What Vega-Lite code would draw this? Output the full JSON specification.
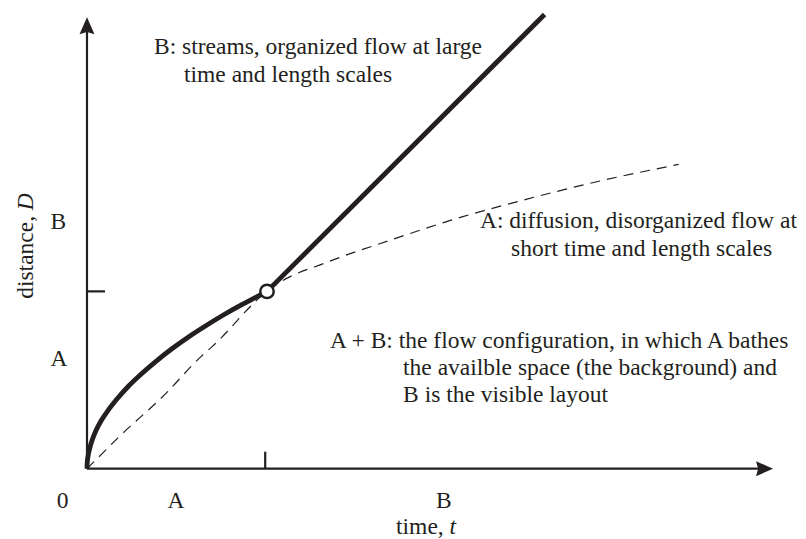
{
  "$schema": "https://vega.github.io/schema/vega-lite/v6.json",
  "width": 806,
  "height": 539,
  "padding": 0,
  "autosize": {"type": "fit", "contains": "padding"},
  "background": "white",
  "config": {
    "view": {"stroke": null},
    "text": {"font": "Liberation Serif", "fontSize": 23.5, "color": "#231f20"}
  },
  "datasets": {
    "curves": [
      {"series": "boldcurve", "t": 0, "D": 0},
      {"series": "boldcurve", "t": 0.001, "D": 0.03},
      {"series": "boldcurve", "t": 0.005, "D": 0.065},
      {"series": "boldcurve", "t": 0.015, "D": 0.115},
      {"series": "boldcurve", "t": 0.03, "D": 0.165},
      {"series": "boldcurve", "t": 0.05, "D": 0.215},
      {"series": "boldcurve", "t": 0.08, "D": 0.273},
      {"series": "boldcurve", "t": 0.12, "D": 0.333},
      {"series": "boldcurve", "t": 0.17, "D": 0.397},
      {"series": "boldcurve", "t": 0.23, "D": 0.465},
      {"series": "boldcurve", "t": 0.3, "D": 0.533},
      {"series": "boldcurve", "t": 0.38, "D": 0.603},
      {"series": "boldcurve", "t": 0.47, "D": 0.675},
      {"series": "boldcurve", "t": 0.56, "D": 0.74},
      {"series": "boldcurve", "t": 0.66, "D": 0.806},
      {"series": "boldcurve", "t": 0.76, "D": 0.868},
      {"series": "boldcurve", "t": 0.86, "D": 0.925},
      {"series": "boldcurve", "t": 0.94, "D": 0.968},
      {"series": "boldcurve", "t": 1, "D": 1},
      {"series": "boldline", "t": 1, "D": 1},
      {"series": "boldline", "t": 2.542, "D": 2.561},
      {"series": "dashed", "t": 0, "D": 0},
      {"series": "dashed", "t": 0.083, "D": 0.084},
      {"series": "dashed", "t": 0.172, "D": 0.174},
      {"series": "dashed", "t": 0.433, "D": 0.419},
      {"series": "dashed", "t": 0.639, "D": 0.638},
      {"series": "dashed", "t": 0.7, "D": 0.693},
      {"series": "dashed", "t": 1, "D": 1},
      {"series": "dashed", "t": 1.074, "D": 1.052},
      {"series": "dashed", "t": 1.333, "D": 1.164},
      {"series": "dashed", "t": 1.703, "D": 1.295},
      {"series": "dashed", "t": 2.074, "D": 1.417},
      {"series": "dashed", "t": 2.444, "D": 1.52},
      {"series": "dashed", "t": 2.814, "D": 1.614},
      {"series": "dashed", "t": 3.287, "D": 1.716}
    ],
    "rules": [
      {"t": 0, "D": 0, "t2": 3.739, "D2": 0},
      {"t": 0, "D": 0, "t2": 0, "D2": 2.475},
      {"t": 0.99, "D": 0, "t2": 0.99, "D2": 0.096},
      {"t": 0, "D": 1, "t2": 0.1, "D2": 1}
    ],
    "arrows": [
      {"dir": "x", "t": 3.764, "D": 0},
      {"dir": "y", "t": 0, "D": 2.498}
    ],
    "marker": [{"t": 1, "D": 1}],
    "texts": [
      {"role": "note", "text": "B: streams, organized flow at large", "t": 0.372, "D": 2.34},
      {"role": "note", "text": "time and length scales", "t": 0.539, "D": 2.183},
      {"role": "note", "text": "A: diffusion, disorganized flow at", "t": 2.183, "D": 1.357},
      {"role": "note", "text": "short time and length scales", "t": 2.356, "D": 1.198},
      {"role": "note", "text": "A + B: the flow configuration, in which A bathes", "t": 1.35, "D": 0.683},
      {"role": "note", "text": "the availble space (the background) and", "t": 1.756, "D": 0.531},
      {"role": "note", "text": "B is the visible layout", "t": 1.756, "D": 0.374},
      {"role": "tick", "text": "0", "t": -0.136, "D": -0.219},
      {"role": "tick", "text": "A", "t": 0.494, "D": -0.219},
      {"role": "tick", "text": "B", "t": 1.982, "D": -0.219},
      {"role": "tick", "text": "B", "t": -0.159, "D": 1.351},
      {"role": "tick", "text": "A", "t": -0.156, "D": 0.579},
      {"role": "xtitle", "text": "time, ", "t": 1.717, "D": -0.368},
      {"role": "xvar", "text": "t", "t": 2.014, "D": -0.368},
      {"role": "ytitle", "text": "distance, ", "t": -0.3, "D": 0.958},
      {"role": "yvar", "text": "D", "t": -0.3, "D": 1.457}
    ]
  },
  "encoding": {
    "x": {"field": "t", "type": "quantitative", "scale": {"domain": [-0.4833, 3.9944], "nice": false, "zero": false}, "axis": null},
    "y": {"field": "D", "type": "quantitative", "scale": {"domain": [-0.385, 2.643], "nice": false, "zero": false}, "axis": null}
  },
  "layer": [
    {
      "data": {"name": "rules"},
      "mark": {"type": "rule", "color": "#231f20", "strokeWidth": 2.2},
      "encoding": {"x2": {"field": "t2"}, "y2": {"field": "D2"}}
    },
    {
      "data": {"name": "arrows"},
      "mark": {"type": "point", "filled": true, "opacity": 1, "color": "#231f20", "size": 289, "strokeWidth": 0},
      "encoding": {
        "shape": {"field": "dir", "type": "nominal", "legend": null,
          "scale": {"domain": ["x", "y"], "range": ["M1,0L-1,0.88L-0.75,0L-1,-0.88Z", "M0,-1L0.88,1L0,0.75L-0.88,1Z"]}}
      }
    },
    {
      "data": {"name": "curves"},
      "transform": [{"filter": "datum.series === 'dashed'"}],
      "mark": {"type": "line", "color": "#231f20", "strokeWidth": 1.2, "strokeDash": [10, 7], "interpolate": "monotone"},
      "encoding": {"detail": {"field": "series"}}
    },
    {
      "data": {"name": "curves"},
      "transform": [{"filter": "datum.series !== 'dashed'"}],
      "mark": {"type": "line", "color": "#231f20", "strokeWidth": 4.8, "interpolate": "monotone", "strokeJoin": "round"},
      "encoding": {"detail": {"field": "series"}}
    },
    {
      "data": {"name": "marker"},
      "mark": {"type": "point", "shape": "circle", "filled": true, "fill": "white", "stroke": "#231f20", "strokeWidth": 2.5, "size": 180, "opacity": 1}
    },
    {
      "data": {"name": "texts"},
      "transform": [{"filter": "datum.role === 'note' || datum.role === 'xtitle'"}],
      "mark": {"type": "text", "align": "left", "baseline": "alphabetic"},
      "encoding": {"text": {"field": "text"}}
    },
    {
      "data": {"name": "texts"},
      "transform": [{"filter": "datum.role === 'xvar'"}],
      "mark": {"type": "text", "align": "left", "baseline": "alphabetic", "fontStyle": "italic"},
      "encoding": {"text": {"field": "text"}}
    },
    {
      "data": {"name": "texts"},
      "transform": [{"filter": "datum.role === 'tick'"}],
      "mark": {"type": "text", "align": "center", "baseline": "alphabetic"},
      "encoding": {"text": {"field": "text"}}
    },
    {
      "data": {"name": "texts"},
      "transform": [{"filter": "datum.role === 'ytitle'"}],
      "mark": {"type": "text", "align": "left", "baseline": "alphabetic", "angle": 270},
      "encoding": {"text": {"field": "text"}}
    },
    {
      "data": {"name": "texts"},
      "transform": [{"filter": "datum.role === 'yvar'"}],
      "mark": {"type": "text", "align": "left", "baseline": "alphabetic", "angle": 270, "fontStyle": "italic"},
      "encoding": {"text": {"field": "text"}}
    }
  ]
}
